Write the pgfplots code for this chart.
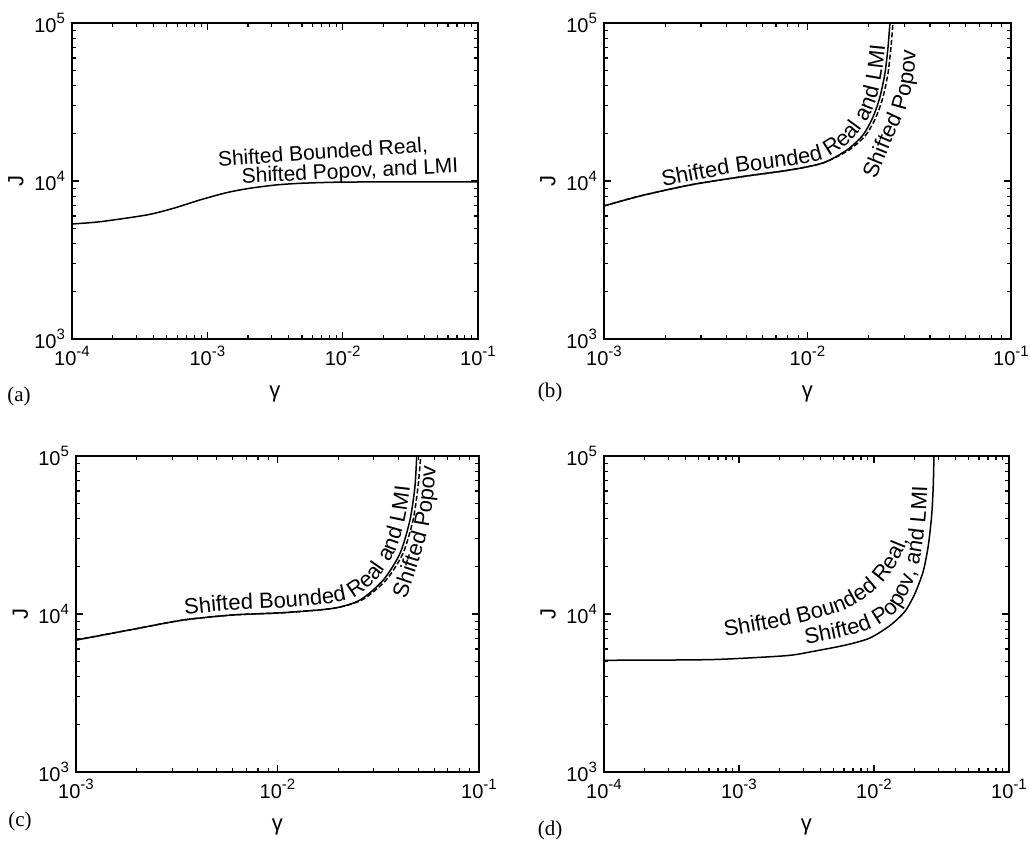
\documentclass[border=0pt]{standalone}
\usepackage{fontspec}
\setmainfont{Liberation Sans}
\newfontfamily\seriffont{Liberation Serif}
\usepackage{pgfplots}
\pgfplotsset{compat=1.18}
\usetikzlibrary{decorations.text}

\newcommand\annfont{\fontsize{10.5}{12}\selectfont}
\newcommand\curvfont{\fontsize{11}{12.5}\selectfont}
\newcommand\tickfont{\fontsize{10}{11.5}\selectfont}
\newcommand\tp[1]{10\raisebox{0.45em}{\fontsize{7.5}{8.5}\selectfont #1}}

\pgfplotsset{
  jplot/.style={
    scale only axis, height=158pt,
    ymin=1e3, ymax=1e5,
    ytick={1e3,1e4,1e5},
    yticklabels={\tp{3},\tp{4},\tp{5}},
    minor ytick={2e3,3e3,4e3,5e3,6e3,7e3,8e3,9e3,2e4,3e4,4e4,5e4,6e4,7e4,8e4,9e4},
    tick align=inside, major tick length=3.5pt, minor tick length=2pt,
    tick style={black, line width=0.6pt},
    axis line style={line width=0.9pt},
    tick label style={font=\tickfont},
    xlabel={γ}, ylabel={J},
    label style={font=\fontsize{11}{12.5}\selectfont},
    xlabel style={at={(axis description cs:0.5,-0.174)}, anchor=center},
    ylabel style={at={(axis description cs:-0.138,0.5)}, anchor=center},
  },
  xfour/.style={xmin=1e-4, xmax=1e-1, xtick={1e-4,1e-3,1e-2,1e-1},
    xticklabels={\tp{-4},\tp{-3},\tp{-2},\tp{-1}},
    minor xtick={2e-4,3e-4,4e-4,5e-4,6e-4,7e-4,8e-4,9e-4,2e-3,3e-3,4e-3,5e-3,6e-3,7e-3,8e-3,9e-3,2e-2,3e-2,4e-2,5e-2,6e-2,7e-2,8e-2,9e-2}},
  xthree/.style={xmin=1e-3, xmax=1e-1, xtick={1e-3,1e-2,1e-1},
    xticklabels={\tp{-3},\tp{-2},\tp{-1}},
    minor xtick={2e-3,3e-3,4e-3,5e-3,6e-3,7e-3,8e-3,9e-3,2e-2,3e-2,4e-2,5e-2,6e-2,7e-2,8e-2,9e-2}},
  solidc/.style={black, line width=0.75pt, no markers, smooth, tension=0.45},
  popov/.style={black, line width=0.75pt, no markers, smooth, tension=0.45, dash pattern=on 2.5pt off 1.2pt},
}

\begin{document}
\begin{tikzpicture}
\useasboundingbox (0,0) rectangle (515pt,422.5pt);

% ---------------- (a)
\begin{loglogaxis}[jplot, xfour, at={(36pt,253pt)}, anchor=south west, width=203pt]
\addplot[solidc] coordinates {(1e-4,5346) (1.61e-4,5521) (3.565e-4,6095) (5.61e-4,6714) (8.83e-4,7586) (1.39e-3,8439) (2.065e-3,8995) (3.257e-3,9446) (4.842e-3,9664) (8.531e-3,9815) (0.01507,9860) (0.03,9870) (0.1,9870)};
\node[anchor=base west, rotate=4.1, font=\annfont, inner sep=0pt] at (rel axis cs:0.360,0.545) {Shifted Bounded Real,};
\node[anchor=base west, rotate=2.8, font=\annfont, inner sep=0pt] at (rel axis cs:0.418,0.493) {Shifted Popov, and LMI};
\end{loglogaxis}

% ---------------- (b)
\begin{loglogaxis}[jplot, xthree, at={(302pt,253pt)}, anchor=south west, width=203.5pt]
\addplot[solidc] coordinates {(1e-3,6950) (0.001503,8035) (0.002648,9434) (0.004656,10600) (0.008204,11740) (0.01191,13000) (0.01563,15710) (0.01874,19550) (0.02099,25420) (0.02270,34020) (0.02403,48270) (0.02488,70500) (0.02541,100000)};
\addplot[popov] coordinates {(1e-3,6950) (0.001503,8035) (0.002648,9434) (0.004656,10600) (0.008204,11740) (0.01191,13000) (0.01600,15710) (0.01936,19550) (0.02173,25420) (0.02350,34020) (0.02488,48270) (0.02572,70500) (0.02630,100000)};
\path[decorate, decoration={text along path, text={|\curvfont|Shifted Bounded Real and LMI}}]
  plot[smooth, tension=0.5] coordinates {(rel axis cs:0.1450,0.4826) (rel axis cs:0.3096,0.5222) (rel axis cs:0.4570,0.5475) (rel axis cs:0.5356,0.5680) (rel axis cs:0.5921,0.6108) (rel axis cs:0.6290,0.6582) (rel axis cs:0.6536,0.7089) (rel axis cs:0.6708,0.7658) (rel axis cs:0.6830,0.8418) (rel axis cs:0.6904,0.9241) (rel axis cs:0.6941,0.9842) (rel axis cs:0.6960,1.0800)};
\path[decorate, decoration={text along path, text={|\curvfont|Shifted Popov}}]
  plot[smooth, tension=0.5] coordinates {(rel axis cs:0.6683,0.5032) (rel axis cs:0.7052,0.6203) (rel axis cs:0.7396,0.7184) (rel axis cs:0.7592,0.8196) (rel axis cs:0.7666,0.9209) (rel axis cs:0.7690,1.0570)};
\end{loglogaxis}

% ---------------- (c)
\begin{loglogaxis}[jplot, xthree, at={(38pt,36.5pt)}, anchor=south west, width=201.5pt]
\addplot[solidc] coordinates {(1e-3,6840) (1.923e-3,8000) (3.412e-3,9160) (6.039e-3,9860) (0.01069,10190) (0.01892,10860) (0.0257,12270) (0.0335,16400) (0.04057,24200) (0.04546,39400) (0.04809,63900) (0.04909,100000)};
\addplot[popov] coordinates {(1e-3,6840) (1.923e-3,8000) (3.412e-3,9160) (6.039e-3,9860) (0.01069,10190) (0.01892,10860) (0.02624,12270) (0.03459,16400) (0.04198,24200) (0.0471,39400) (0.04982,63900) (0.0514,100000)};
\path[decorate, decoration={text along path, text={|\curvfont|Shifted Bounded Real and LMI}}]
  plot[smooth, tension=0.5] coordinates {(rel axis cs:0.2705,0.4984) (rel axis cs:0.3896,0.5127) (rel axis cs:0.5136,0.5199) (rel axis cs:0.6342,0.5342) (rel axis cs:0.6965,0.5563) (rel axis cs:0.7514,0.6161) (rel axis cs:0.7921,0.6975) (rel axis cs:0.8164,0.7997) (rel axis cs:0.8288,0.9028) (rel axis cs:0.8330,0.9987) (rel axis cs:0.8345,1.0800)};
\path[decorate, decoration={text along path, text={|\curvfont|Shifted Popov}}]
  plot[smooth, tension=0.5] coordinates {(rel axis cs:0.8190,0.5470) (rel axis cs:0.8510,0.6690) (rel axis cs:0.8760,0.7816) (rel axis cs:0.8880,0.8924) (rel axis cs:0.8940,0.9873) (rel axis cs:0.8960,1.0800)};
\end{loglogaxis}

% ---------------- (d)
\begin{loglogaxis}[jplot, xfour, at={(302pt,36.5pt)}, anchor=south west, width=202.5pt]
\addplot[solidc] coordinates {(1e-4,5093) (3e-4,5110) (7.228e-4,5164) (2.254e-3,5450) (3.548e-3,5800) (6.279e-3,6380) (9.333e-3,7050) (0.01313,8450) (0.01697,10400) (0.02013,13500) (0.02318,18700) (0.02523,27000) (0.02673,41800) (0.02748,64700) (0.02780,100000)};
\path[decorate, decoration={text along path, text={|\curvfont|Shifted Bounded Real,}}]
  plot[smooth, tension=0.5] coordinates {(rel axis cs:0.2988,0.4290) (rel axis cs:0.4593,0.4653) (rel axis cs:0.5827,0.5079) (rel axis cs:0.6568,0.5615) (rel axis cs:0.7037,0.6215) (rel axis cs:0.7383,0.6940) (rel axis cs:0.7580,0.7634) (rel axis cs:0.7679,0.8265) (rel axis cs:0.7728,0.9527)};
\path[decorate, decoration={text along path, text={|\curvfont|Shifted Popov, and LMI}}]
  plot[smooth, tension=0.5] coordinates {(rel axis cs:0.4988,0.4038) (rel axis cs:0.5951,0.4293) (rel axis cs:0.6496,0.4489) (rel axis cs:0.6960,0.4808) (rel axis cs:0.7304,0.5202) (rel axis cs:0.7541,0.5744) (rel axis cs:0.7738,0.6410) (rel axis cs:0.7859,0.7183) (rel axis cs:0.7943,0.8117) (rel axis cs:0.7983,0.9057) (rel axis cs:0.8000,1.0000) (rel axis cs:0.8010,1.0800)};
\end{loglogaxis}

% panel labels
\node[font=\seriffont\fontsize{10.5}{12}\selectfont] at (9.5pt,224.5pt) {(a)};
\node[font=\seriffont\fontsize{10.5}{12}\selectfont] at (275pt,226.5pt) {(b)};
\node[font=\seriffont\fontsize{10.5}{12}\selectfont] at (10pt,12pt) {(c)};
\node[font=\seriffont\fontsize{10.5}{12}\selectfont] at (275pt,7.5pt) {(d)};
\end{tikzpicture}
\end{document}
